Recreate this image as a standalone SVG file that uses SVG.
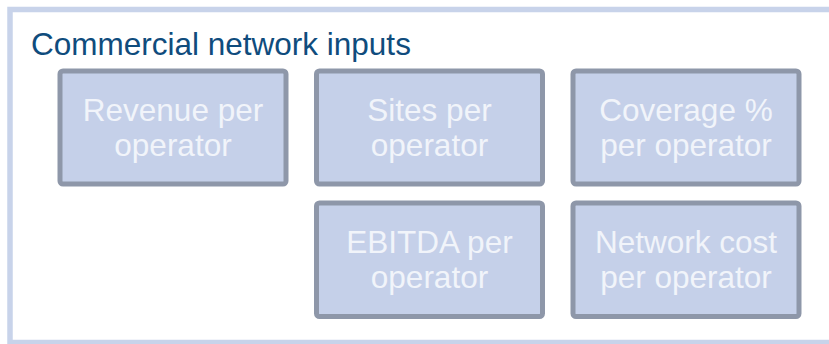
<svg xmlns="http://www.w3.org/2000/svg" width="829" height="344" viewBox="0 0 829 344">
  <style>
    .frame { fill: #ffffff; stroke: #c8d3ea; stroke-width: 5.5; }
    .title { font-family: "Liberation Sans", Arial, sans-serif; font-size: 31.5px; fill: #0f4c7d; }
    .box { fill: #c5d0e9; stroke: #8e97a9; stroke-width: 5; }
    .label { font-family: "Liberation Sans", Arial, sans-serif; font-size: 31.5px; fill: #f1f4fa; text-anchor: middle; }
  </style>
  <rect width="829" height="344" fill="#ffffff"/>
  <g id="frame">
    <rect class="frame" x="10" y="9.5" width="840" height="333"/>
    <text class="title" x="31" y="55">Commercial network inputs</text>
  </g>
  <g id="connectors"/>
  <g id="revenue">
    <rect class="box" x="60" y="71" width="226" height="113" rx="3"/>
    <text class="label" x="173" y="121">Revenue per</text>
    <text class="label" x="173" y="156">operator</text>
  </g>
  <g id="sites">
    <rect class="box" x="316.5" y="71" width="226" height="113" rx="3"/>
    <text class="label" x="429.5" y="121">Sites per</text>
    <text class="label" x="429.5" y="156">operator</text>
  </g>
  <g id="coverage">
    <rect class="box" x="573" y="71" width="226" height="113" rx="3"/>
    <text class="label" x="686" y="121">Coverage %</text>
    <text class="label" x="686" y="156">per operator</text>
  </g>
  <g id="ebitda">
    <rect class="box" x="316.5" y="203" width="226" height="113.5" rx="3"/>
    <text class="label" x="429.5" y="253">EBITDA per</text>
    <text class="label" x="429.5" y="288">operator</text>
  </g>
  <g id="network-cost">
    <rect class="box" x="573" y="203" width="226" height="113.5" rx="3"/>
    <text class="label" x="686" y="253">Network cost</text>
    <text class="label" x="686" y="288">per operator</text>
  </g>
</svg>
